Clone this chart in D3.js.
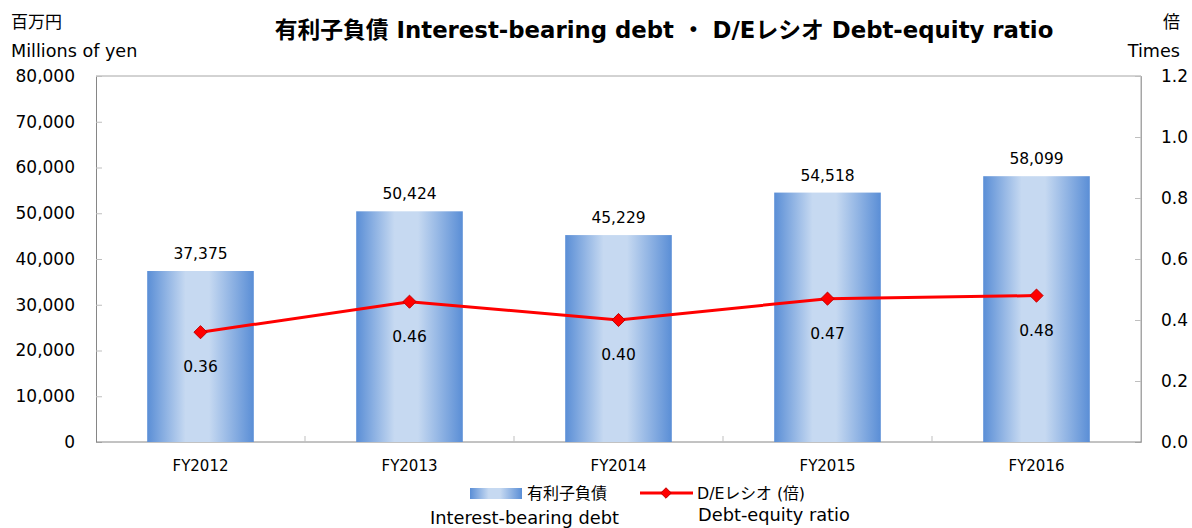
<!DOCTYPE html>
<html>
<head>
<meta charset="utf-8">
<script src="https://cdn.jsdelivr.net/npm/d3@7"></script>
<style>
  body { margin: 0; background: #fff; }
  text { font-family: "DejaVu Sans", Verdana, "Noto Sans CJK JP", sans-serif; fill: #000; }
</style>
</head>
<body>
<div id="chart"></div>
<script>
// Data
const years = ["FY2012", "FY2013", "FY2014", "FY2015", "FY2016"];
const debt = [37375, 50424, 45229, 54518, 58099];
const deRatio = [0.36, 0.46, 0.40, 0.47, 0.48];
const leftTicks = [0, 10000, 20000, 30000, 40000, 50000, 60000, 70000, 80000];
const rightTicks = [0, 0.2, 0.4, 0.6, 0.8, 1.0, 1.2];

// Dimensions
const width = 1192;
const height = 528;
const margin = { top: 76, right: 51, bottom: 86, left: 96 };
const innerW = width - margin.left - margin.right;
const innerH = height - margin.top - margin.bottom;

const svg = d3.select("#chart")
  .append("svg")
    .attr("width", width)
    .attr("height", height);

// Bar gradient
const grad = svg.append("defs")
  .append("linearGradient")
    .attr("id", "barGrad")
    .attr("x1", "0%").attr("x2", "100%")
    .attr("y1", "0%").attr("y2", "0%");
[[0, "#5a8ed6"], [0.36, "#c6d9f1"], [0.58, "#c6d9f1"], [1, "#5a8ed6"]]
  .forEach(([o, c]) => grad.append("stop").attr("offset", o).attr("stop-color", c));

// Scales
const x = d3.scaleBand()
  .domain(years)
  .range([0, innerW])
  .paddingInner(0.49)
  .paddingOuter(0.245);
const yLeft = d3.scaleLinear().domain([0, 80000]).range([innerH, 0]);
const yRight = d3.scaleLinear().domain([0, 1.2]).range([innerH, 0]);

const g = svg.append("g")
  .attr("transform", `translate(${margin.left}, ${margin.top})`);

// Frame (top and right)
g.append("path")
  .attr("d", `M0,0H${innerW}V${innerH}`)
  .attr("fill", "none")
  .attr("stroke", "#a6a6a6")
  .attr("stroke-width", 1);

// Left axis
const leftAxis = g.append("g")
  .call(d3.axisLeft(yLeft)
    .tickValues(leftTicks)
    .tickSize(-6)
    .tickPadding(21)
    .tickFormat(d3.format(",")));
leftAxis.select(".domain").attr("stroke", "#868686");
leftAxis.selectAll(".tick line").attr("stroke", "#bfbfbf");
leftAxis.selectAll(".tick text")
  .attr("font-size", 17)
  .attr("font-family", "DejaVu Sans, sans-serif")
  .attr("fill", "#000");

// Right axis
const rightAxis = g.append("g")
  .attr("transform", `translate(${innerW}, 0)`)
  .call(d3.axisRight(yRight)
    .tickValues(rightTicks)
    .tickSize(-6)
    .tickPadding(20)
    .tickFormat(d3.format(".1f")));
rightAxis.select(".domain").attr("stroke", "#a6a6a6");
rightAxis.selectAll(".tick line").attr("stroke", "#bfbfbf");
rightAxis.selectAll(".tick text")
  .attr("font-size", 17)
  .attr("font-family", "DejaVu Sans, sans-serif")
  .attr("fill", "#000");

// Bottom axis: ticks between categories
const step = x.step();
const bottom = g.append("g")
  .attr("transform", `translate(0, ${innerH})`);
bottom.append("line")
  .attr("x1", 0).attr("x2", innerW)
  .attr("stroke", "#868686");
bottom.selectAll(".sep")
  .data(d3.range(1, years.length))
  .join("line")
    .attr("class", "sep")
    .attr("x1", i => i * step).attr("x2", i => i * step)
    .attr("y1", 0).attr("y2", -6)
    .attr("stroke", "#bfbfbf");
bottom.selectAll(".xlabel")
  .data(years)
  .join("text")
    .attr("class", "xlabel")
    .attr("x", d => x(d) + x.bandwidth() / 2)
    .attr("y", 29)
    .attr("text-anchor", "middle")
    .attr("font-size", 15)
    .text(d => d);

// Bars
g.append("g")
  .selectAll("rect")
  .data(debt)
  .join("rect")
    .attr("x", (d, i) => x(years[i]))
    .attr("y", d => yLeft(d))
    .attr("width", x.bandwidth())
    .attr("height", d => innerH - yLeft(d))
    .attr("fill", "url(#barGrad)");

// Bar labels
g.append("g")
  .selectAll("text")
  .data(debt)
  .join("text")
    .attr("x", (d, i) => x(years[i]) + x.bandwidth() / 2)
    .attr("y", d => yLeft(d) - 12)
    .attr("text-anchor", "middle")
    .attr("font-size", 15.5)
    .text(d => d3.format(",")(d));

// Ratio line
const cx = i => x(years[i]) + x.bandwidth() / 2;
const line = d3.line()
  .x((d, i) => cx(i))
  .y(d => yRight(d));
g.append("path")
  .datum(deRatio)
  .attr("d", line)
  .attr("fill", "none")
  .attr("stroke", "#ff0000")
  .attr("stroke-width", 3);

const diamond = d3.symbol().type(d3.symbolDiamond2).size(110);
g.append("g")
  .selectAll("path")
  .data(deRatio)
  .join("path")
    .attr("transform", (d, i) => `translate(${cx(i)}, ${yRight(d)})`)
    .attr("d", diamond)
    .attr("fill", "#ff0000")
    .attr("stroke", "#c00000")
    .attr("stroke-width", 1);

g.append("g")
  .selectAll("text")
  .data(deRatio)
  .join("text")
    .attr("x", (d, i) => cx(i))
    .attr("y", d => yRight(d) + 40)
    .attr("text-anchor", "middle")
    .attr("font-size", 15.5)
    .text(d => d3.format(".2f")(d));

// Title and axis titles
svg.append("text")
  .attr("x", 664)
  .attr("y", 38)
  .attr("text-anchor", "middle")
  .attr("font-size", 22.8)
  .attr("font-weight", "bold")
  .attr("font-family", "Noto Sans CJK JP, sans-serif")
  .text("有利子負債 Interest-bearing debt ・ D/Eレシオ Debt-equity ratio");

svg.append("text")
  .attr("x", 11).attr("y", 28)
  .attr("font-size", 17)
  .attr("font-family", "Noto Sans CJK JP, sans-serif")
  .text("百万円");
svg.append("text")
  .attr("x", 11).attr("y", 57)
  .attr("font-size", 17.6)
  .text("Millions of yen");
svg.append("text")
  .attr("x", 1180).attr("y", 28)
  .attr("text-anchor", "end")
  .attr("font-size", 17)
  .attr("font-family", "Noto Sans CJK JP, sans-serif")
  .text("倍");
svg.append("text")
  .attr("x", 1180).attr("y", 57)
  .attr("text-anchor", "end")
  .attr("font-size", 17.6)
  .text("Times");

// Legend
const legend = svg.append("g");
legend.append("rect")
  .attr("x", 470).attr("y", 488)
  .attr("width", 52).attr("height", 11)
  .attr("fill", "url(#barGrad)");
legend.append("text")
  .attr("x", 527).attr("y", 499)
  .attr("font-size", 16)
  .attr("font-family", "Noto Sans CJK JP, sans-serif")
  .text("有利子負債");
legend.append("text")
  .attr("x", 430).attr("y", 524)
  .attr("font-size", 17.8)
  .text("Interest-bearing debt");
legend.append("line")
  .attr("x1", 640).attr("x2", 693)
  .attr("y1", 493).attr("y2", 493)
  .attr("stroke", "#ff0000")
  .attr("stroke-width", 3);
legend.append("path")
  .attr("transform", "translate(666, 493)")
  .attr("d", d3.symbol().type(d3.symbolDiamond2).size(70))
  .attr("fill", "#ff0000")
  .attr("stroke", "#c00000");
legend.append("text")
  .attr("x", 697).attr("y", 499)
  .attr("font-size", 15.8)
  .text("D/Eレシオ (倍)");
legend.append("text")
  .attr("x", 698).attr("y", 521)
  .attr("font-size", 17.8)
  .text("Debt-equity ratio");
</script>
</body>
</html>
